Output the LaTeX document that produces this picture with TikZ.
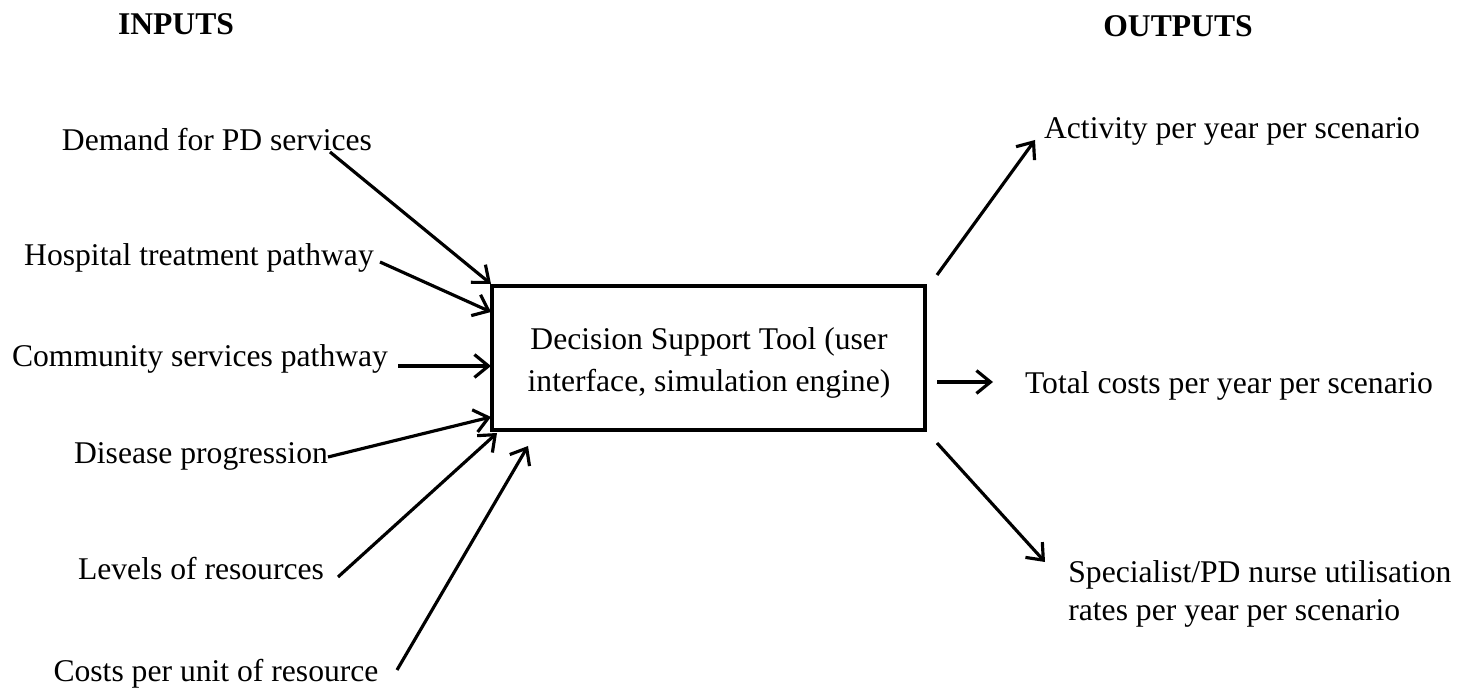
\documentclass[tikz,border=0pt]{standalone}
\usepackage{fontspec}
\setmainfont{Liberation Serif}
\usetikzlibrary{arrows.meta}
\begin{document}
\begin{tikzpicture}[x=0.02cm,y=-0.02cm,
  lbl/.style={inner sep=0pt,font=\fontsize{18}{21.5}\selectfont},
  hdr/.style={inner sep=0pt,font=\fontsize{18}{21}\selectfont\bfseries},
  conn/.style={line width=1.8pt,-{Straight Barb[length=8pt,width=13pt,line width=1.8pt]}},
  boxst/.style={draw,line width=1.8pt,minimum width=433*0.02cm,minimum height=144*0.02cm,inner sep=0pt}]
\useasboundingbox (0,0) rectangle (1474,688);
\node[hdr] (inp) at (176,24) {INPUTS};
\node[hdr] (outp) at (1178,26) {OUTPUTS};
\node[boxst] (box) at (708.5,358) {};
\node[lbl,align=center] (boxtxt) at (709,363) {Decision Support Tool (user\\[2pt]interface, simulation engine)};
\node[lbl] (in1) at (217,140) {Demand for PD services};
\node[lbl] (in2) at (199,258) {Hospital treatment pathway};
\node[lbl] (in3) at (200,359) {Community services pathway};
\node[lbl] (in4) at (201,456) {Disease progression};
\node[lbl] (in5) at (201,569) {Levels of resources};
\node[lbl] (in6) at (216,674) {Costs per unit of resource};
\node[lbl] (out1) at (1232,131) {Activity per year per scenario};
\node[lbl] (out2) at (1229,386) {Total costs per year per scenario};
\node[lbl,align=left,anchor=west] (out3) at (1068,594) {Specialist/PD nurse utilisation\\[0pt]rates per year per scenario};
\coordinate (s1) at (330,152); \coordinate (t1) at (491,284);
\coordinate (s2) at (380,262); \coordinate (t2) at (491,312);
\coordinate (s3) at (398,366); \coordinate (t3) at (491,366);
\coordinate (s4) at (328,457); \coordinate (t4) at (491,417);
\coordinate (s5) at (338,577); \coordinate (t5) at (497,433);
\coordinate (s6) at (397,670); \coordinate (t6) at (528,446);
\coordinate (o1s) at (937,275); \coordinate (o1t) at (1035,140);
\coordinate (o2s) at (937,382); \coordinate (o2t) at (993,382);
\coordinate (o3s) at (937,443); \coordinate (o3t) at (1045,562);
\draw[conn] (s1) -- (t1);
\draw[conn] (s2) -- (t2);
\draw[conn] (s3) -- (t3);
\draw[conn] (s4) -- (t4);
\draw[conn] (s5) -- (t5);
\draw[conn] (s6) -- (t6);
\draw[conn] (o1s) -- (o1t);
\draw[conn] (o2s) -- (o2t);
\draw[conn] (o3s) -- (o3t);
\end{tikzpicture}
\end{document}
